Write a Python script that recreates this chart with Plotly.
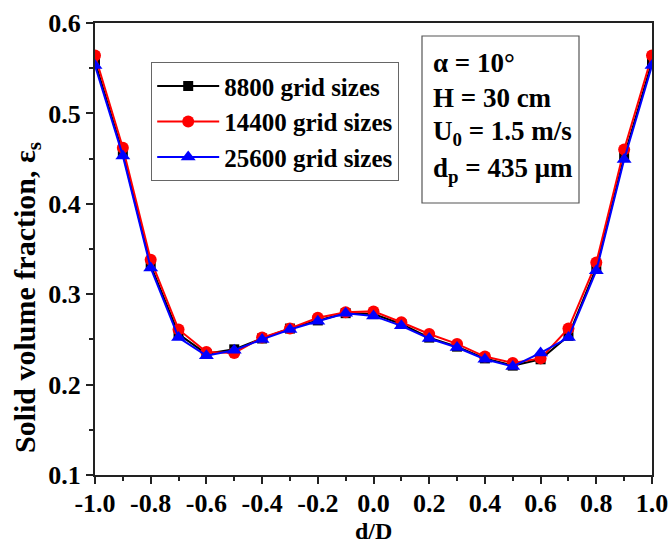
import plotly.graph_objects as go

# Radial position across the bed
d_over_D = [-1.0, -0.9, -0.8, -0.7, -0.6, -0.5, -0.4, -0.3, -0.2, -0.1, 0.0,
            0.1, 0.2, 0.3, 0.4, 0.5, 0.6, 0.7, 0.8, 0.9, 1.0]

# Solid volume fraction for each mesh
eps_8800 = [0.557, 0.456, 0.332, 0.256, 0.234, 0.239, 0.251, 0.262, 0.271, 0.279, 0.278,
            0.267, 0.252, 0.242, 0.229, 0.221, 0.228, 0.254, 0.329, 0.452, 0.557]
eps_14400 = [0.564, 0.462, 0.338, 0.261, 0.236, 0.235, 0.252, 0.262, 0.274, 0.280, 0.281,
             0.269, 0.256, 0.245, 0.231, 0.224, 0.229, 0.262, 0.335, 0.460, 0.564]
eps_25600 = [0.553, 0.453, 0.329, 0.252, 0.232, 0.238, 0.250, 0.261, 0.270, 0.279, 0.276,
             0.265, 0.251, 0.241, 0.228, 0.220, 0.235, 0.252, 0.326, 0.449, 0.553]

series_names = ["8800 grid sizes", "14400 grid sizes", "25600 grid sizes"]
conditions = ["α = 10°", "H = 30 cm", "U<sub>0</sub> = 1.5 m/s", "d<sub>p</sub> = 435 μm"]

x_ticks = [-1.0, -0.8, -0.6, -0.4, -0.2, 0.0, 0.2, 0.4, 0.6, 0.8, 1.0]
y_ticks = [0.1, 0.2, 0.3, 0.4, 0.5, 0.6]

FONT = "Liberation Serif"

fig = go.Figure()
styles = [
    (eps_8800, "black", "square", 10),
    (eps_14400, "red", "circle", 12),
    (eps_25600, "blue", "triangle-up", 13),
]
for i, (vals, color, symbol, size) in enumerate(styles):
    fig.add_trace(go.Scatter(
        x=d_over_D, y=vals, name=series_names[i], mode="lines+markers",
        line=dict(color=color, width=2),
        marker=dict(color=color, symbol=symbol, size=size),
    ))

# Plot area in pixels (used to place the legend, titles and condition box)
L, R, T, B = 95, 652, 23, 475
W, H = R - L, B - T


def px(xp):
    return (xp - L) / W


def py(yp):
    return (B - yp) / H


fig.add_shape(type="rect", xref="paper", yref="paper",
              x0=px(422), x1=px(579), y0=py(203), y1=py(36),
              line=dict(color="#555555", width=1.2), fillcolor="white")
for txt, yc in zip(conditions, [63, 98, 133, 170]):
    fig.add_annotation(xref="paper", yref="paper", x=px(431), y=py(yc),
                       xanchor="left", yanchor="middle", showarrow=False,
                       text=f"<b>{txt}</b>",
                       font=dict(family=FONT, size=27, color="black"))

# Axis titles
fig.add_annotation(xref="paper", yref="paper", x=px(373), y=py(545),
                   xanchor="center", yanchor="bottom", showarrow=False, borderpad=0,
                   text="<b>d/D</b>", font=dict(family=FONT, size=24, color="black"))
fig.add_annotation(xref="paper", yref="paper", x=px(27), y=py(298),
                   xanchor="center", yanchor="middle", showarrow=False, textangle=-90,
                   text="<b>Solid volume fraction, ε<sub>s</sub></b>",
                   font=dict(family=FONT, size=30, color="black"))

axis_common = dict(
    showline=True, linecolor="#222222", linewidth=2, mirror=True,
    ticks="outside", ticklen=7, tickwidth=2, tickcolor="#222222",
    showgrid=False, zeroline=False, automargin=False,
    tickfont=dict(family=FONT, size=26, color="black"),
)

fig.update_layout(
    width=670, height=546,
    margin=dict(l=L, r=670 - R, t=T, b=546 - B),
    paper_bgcolor="white", plot_bgcolor="white",
    showlegend=True,
    legend=dict(
        x=px(151), y=py(62), xanchor="left", yanchor="top",
        bordercolor="#666666", borderwidth=1.2, bgcolor="white",
        font=dict(family=FONT, size=25, color="black", weight="bold"),
        tracegroupgap=0, itemwidth=62,
    ),
    xaxis=dict(
        range=[-1.0, 1.0], tickvals=x_ticks,
        ticktext=[f"<b>{v:.1f}</b>" for v in x_ticks],
        ticklabelstandoff=-3,
        minor=dict(dtick=0.1, ticks="outside", ticklen=4, tickwidth=1.5, tickcolor="#222222"),
        **axis_common,
    ),
    yaxis=dict(
        range=[0.1, 0.6], tickvals=y_ticks,
        ticktext=[f"<b>{v:.1f}</b>" for v in y_ticks],
        minor=dict(dtick=0.05, ticks="outside", ticklen=4, tickwidth=1.5, tickcolor="#222222"),
        **axis_common,
    ),
)

fig.write_html("out.html")
